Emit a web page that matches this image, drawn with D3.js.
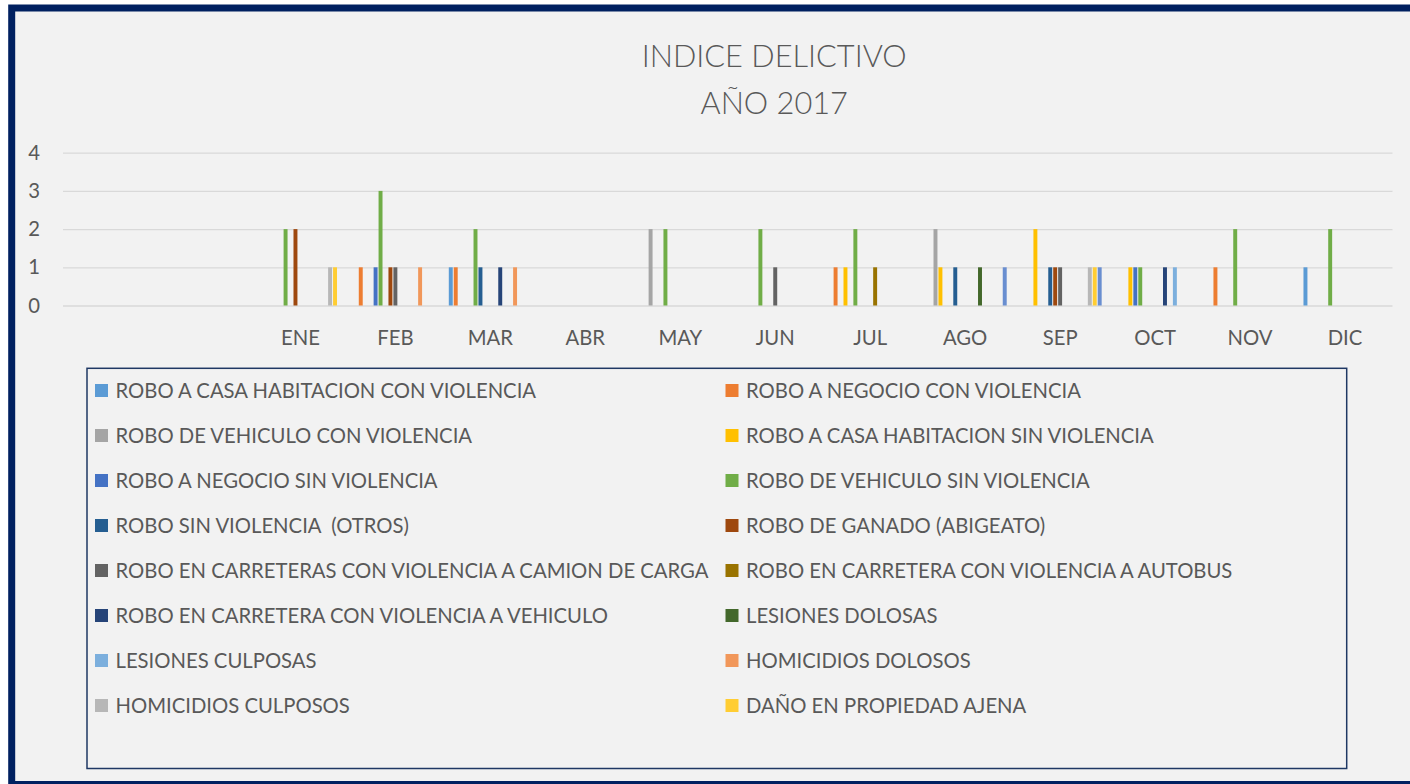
<!DOCTYPE html>
<html>
<head>
<meta charset="utf-8">
<script src="https://cdn.jsdelivr.net/npm/d3@7"></script>
<style>
    body { margin: 0; background: #ffffff; }
    svg { display: block; }
    text { font-family: Lato, "Open Sans", sans-serif; fill: #595959; white-space: pre; }
</style>
</head>
<body>
<div id="chart"></div>
<script>
// two blank categories come before ENE in the original sheet
const categories = ["", "", "ENE", "FEB", "MAR", "ABR", "MAY", "JUN", "JUL", "AGO", "SEP", "OCT", "NOV", "DIC"];

const seriesNames = [
    "ROBO A CASA HABITACION CON VIOLENCIA",
    "ROBO A NEGOCIO CON VIOLENCIA",
    "ROBO DE VEHICULO CON VIOLENCIA",
    "ROBO A CASA HABITACION SIN VIOLENCIA",
    "ROBO A NEGOCIO SIN VIOLENCIA",
    "ROBO DE VEHICULO SIN VIOLENCIA",
    "ROBO SIN VIOLENCIA  (OTROS)",
    "ROBO DE GANADO (ABIGEATO)",
    "ROBO EN CARRETERAS CON VIOLENCIA A CAMION DE CARGA",
    "ROBO EN CARRETERA CON VIOLENCIA A AUTOBUS",
    "ROBO EN CARRETERA CON VIOLENCIA A VEHICULO",
    "LESIONES DOLOSAS",
    "LESIONES CULPOSAS",
    "HOMICIDIOS DOLOSOS",
    "HOMICIDIOS CULPOSOS",
    "DAÑO EN PROPIEDAD AJENA",
    "" // 17th series has no legend entry in the original
];

const seriesColors = ["#5B9BD5", "#ED7D31", "#A5A5A5", "#FFC000", "#4472C4", "#70AD47",
    "#255E91", "#9E480E", "#636363", "#997300", "#264478", "#43682B",
    "#7CAFDD", "#F1975A", "#B7B7B7", "#FFCD33", "#698ED0"];

//                          -  -  ENE FEB MAR ABR MAY JUN JUL AGO SEP OCT NOV DIC
const casaConViolencia     = [0, 0, 0,  0,  1,  0,  0,  0,  0,  0,  0,  0,  0,  1];
const negocioConViolencia  = [0, 0, 0,  1,  1,  0,  0,  0,  1,  0,  0,  0,  1,  0];
const vehiculoConViolencia = [0, 0, 0,  0,  0,  0,  2,  0,  0,  2,  0,  0,  0,  0];
const casaSinViolencia     = [0, 0, 0,  0,  0,  0,  0,  0,  1,  1,  2,  1,  0,  0];
const negocioSinViolencia  = [0, 0, 0,  1,  0,  0,  0,  0,  0,  0,  0,  1,  0,  0];
const vehiculoSinViolencia = [0, 0, 2,  3,  2,  0,  2,  2,  2,  0,  0,  1,  2,  2];
const roboOtros            = [0, 0, 0,  0,  1,  0,  0,  0,  0,  1,  1,  0,  0,  0];
const abigeato             = [0, 0, 2,  1,  0,  0,  0,  0,  0,  0,  1,  0,  0,  0];
const camionCarga          = [0, 0, 0,  1,  0,  0,  0,  1,  0,  0,  1,  0,  0,  0];
const autobus              = [0, 0, 0,  0,  0,  0,  0,  0,  1,  0,  0,  0,  0,  0];
const carreteraVehiculo    = [0, 0, 0,  0,  1,  0,  0,  0,  0,  0,  0,  1,  0,  0];
const lesionesDolosas      = [0, 0, 0,  0,  0,  0,  0,  0,  0,  1,  0,  0,  0,  0];
const lesionesCulposas     = [0, 0, 0,  0,  0,  0,  0,  0,  0,  0,  0,  1,  0,  0];
const homicidiosDolosos    = [0, 0, 0,  1,  1,  0,  0,  0,  0,  0,  0,  0,  0,  0];
const homicidiosCulposos   = [0, 0, 1,  0,  0,  0,  0,  0,  0,  0,  1,  0,  0,  0];
const danoPropiedad        = [0, 0, 1,  0,  0,  0,  0,  0,  0,  0,  1,  0,  0,  0];
const serieSinNombre       = [0, 0, 0,  0,  0,  0,  0,  0,  0,  1,  1,  0,  0,  0];

const seriesValues = [casaConViolencia, negocioConViolencia, vehiculoConViolencia, casaSinViolencia,
    negocioSinViolencia, vehiculoSinViolencia, roboOtros, abigeato, camionCarga, autobus,
    carreteraVehiculo, lesionesDolosas, lesionesCulposas, homicidiosDolosos, homicidiosCulposos,
    danoPropiedad, serieSinNombre];

const yTicks = [0, 1, 2, 3, 4];
const titleLines = ["INDICE DELICTIVO", "AÑO 2017"];

const width = 1410;
const height = 784;
const plot = {left: 63, right: 1392.5, top: 152.7, bottom: 305.5};

const svg = d3.select("#chart")
    .append("svg")
    .attr("width", width)
    .attr("height", height);

// chart area with the thick navy frame
svg.append("rect")
    .attr("x", 11.7)
    .attr("y", 8)
    .attr("width", 1500)
    .attr("height", 776.5)
    .attr("fill", "#f2f2f2")
    .attr("stroke", "#002060")
    .attr("stroke-width", 7);

// size a font so a given string fills a given width
function fitSize(str, target, weight) {
    const t = svg.append("text").attr("font-size", 100).attr("font-weight", weight || 400).text(str);
    const len = t.node().getComputedTextLength();
    t.remove();
    return 100 * target / len;
}

const legendSize = fitSize(seriesNames[0], 421);
const titleSize = fitSize(titleLines[0], 265, 300);

svg.selectAll(".title")
    .data(titleLines)
    .enter()
    .append("text")
    .attr("class", "title")
    .attr("x", 774.2)
    .attr("y", (d, i) => 66.7 + i * 47.3)
    .attr("text-anchor", "middle")
    .attr("font-size", titleSize)
    .attr("font-weight", 300)
    .text(d => d);

const x0 = d3.scaleBand()
    .domain(d3.range(categories.length))
    .range([plot.left, plot.right])
    .paddingInner(0)
    .paddingOuter(0);

const x1 = d3.scaleBand()
    .domain(d3.range(seriesValues.length))
    .range([0, x0.bandwidth()])
    .paddingInner(0)
    .paddingOuter(1.1);

const y = d3.scaleLinear()
    .domain([0, 4])
    .range([plot.bottom, plot.top]);

const yAxis = svg.append("g")
    .attr("transform", `translate(${plot.left}, 0)`)
    .call(d3.axisLeft(y).tickValues(yTicks).tickFormat(d3.format("d"))
        .tickSizeInner(-(plot.right - plot.left)).tickSizeOuter(0).tickPadding(23));
yAxis.select(".domain").remove();
yAxis.selectAll("line").attr("stroke", "#d9d9d9").attr("stroke-width", 1.3);
yAxis.selectAll("text")
    .attr("font-size", legendSize)
    .attr("fill", "#595959")
    .style("font-family", "Lato, 'Open Sans', sans-serif");

const xAxis = svg.append("g")
    .attr("transform", `translate(0, ${plot.bottom})`)
    .call(d3.axisBottom(x0).tickFormat(i => categories[i]).tickSize(0));
xAxis.select(".domain").remove();
xAxis.selectAll("text")
    .attr("y", 39.5)
    .attr("dy", null)
    .attr("font-size", legendSize)
    .attr("fill", "#595959")
    .style("font-family", "Lato, 'Open Sans', sans-serif");

const barData = [];
seriesValues.forEach((values, s) => {
    values.forEach((v, c) => {
        if (v > 0) barData.push({series: s, cat: c, value: v});
    });
});

svg.append("g")
    .selectAll("rect")
    .data(barData)
    .enter()
    .append("rect")
    .attr("x", d => x0(d.cat) + x1(d.series) + 0.5)
    .attr("y", d => y(d.value))
    .attr("width", x1.bandwidth() - 1)
    .attr("height", d => y(0) - y(d.value))
    .attr("fill", d => seriesColors[d.series]);

// legend box
svg.append("rect")
    .attr("x", 87)
    .attr("y", 368.3)
    .attr("width", 1346.7 - 87)
    .attr("height", 768.5 - 368.3)
    .attr("fill", "none")
    .attr("stroke", "#1f3864")
    .attr("stroke-width", 1.5);

const legendItems = seriesNames.map((name, i) => ({name: name, color: seriesColors[i], i: i}))
    .filter(d => d.name !== "");

const legend = svg.append("g")
    .selectAll("g")
    .data(legendItems)
    .enter()
    .append("g")
    .attr("transform", d => `translate(${d.i % 2 === 0 ? 95 : 725.5}, ${390.5 + Math.floor(d.i / 2) * 45})`);

legend.append("rect")
    .attr("x", 0)
    .attr("y", -6.5)
    .attr("width", 13)
    .attr("height", 13)
    .attr("fill", d => d.color);

legend.append("text")
    .attr("x", 20.5)
    .attr("y", 7.5)
    .attr("font-size", legendSize)
    .text(d => d.name);
</script>
</body>
</html>
